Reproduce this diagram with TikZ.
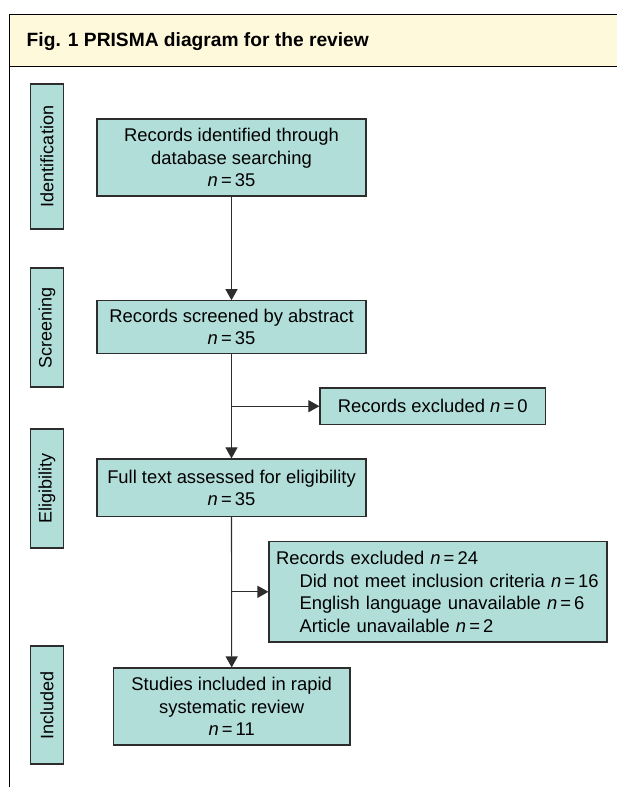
\documentclass[tikz,border=0pt]{standalone}
\usepackage{fontspec}
\setmainfont{Liberation Sans}
\usetikzlibrary{arrows.meta}
\definecolor{boxfill}{RGB}{178,222,218}
\definecolor{headfill}{RGB}{255,249,220}
\definecolor{lineclr}{RGB}{45,45,45}
\newcommand{\nn}[1]{\textit{n}\,=\,#1}
\begin{document}
\begin{tikzpicture}[x=1pt,y=-1pt,
  box/.style={draw=lineclr,line width=1.1pt,fill=boxfill,inner sep=0pt,
    font=\fontsize{18.4}{22.5}\selectfont,align=center},
  side/.style={box,font=\fontsize{18}{22}\selectfont,rotate=90},
  arr/.style={draw=lineclr,line width=1.1pt,-{Triangle[length=11pt,width=12pt]}}]
\useasboundingbox (0,0) rectangle (616,787);
% frame
\fill[headfill] (9,14) rectangle (620,66.7);
\draw[black,line width=0.9pt] (620,14) -- (9,14) -- (9,790);
\draw[black,line width=0.9pt] (9,66.7) -- (620,66.7);
\node[anchor=base west,font=\fontsize{19.2}{22}\selectfont\bfseries,inner sep=0pt] (title) at (26.5,46.5) {Fig. 1 PRISMA diagram for the review};
% side labels
\node[side,minimum height=33pt,minimum width=145pt] (s1) at (47,156.5) {Identification};
\node[side,minimum height=33pt,minimum width=119pt] (s2) at (47,327.5) {Screening};
\node[side,minimum height=33pt,minimum width=119pt] (s3) at (47,488.5) {Eligibility};
\node[side,minimum height=33pt,minimum width=118pt] (s4) at (47,705) {Included};
% main boxes
\node[box,minimum width=269pt,minimum height=77pt] (b1) at (231.5,157.5) {Records identified through\\database searching\\\nn{35}};
\node[box,minimum width=269pt,minimum height=52.3pt] (b2) at (231.5,326.9) {Records screened by abstract\\\nn{35}};
\node[box,minimum width=269pt,minimum height=57.7pt] (b3) at (231.5,487.8) {Full text assessed for eligibility\\\nn{35}};
\node[box,minimum width=236.5pt,minimum height=77pt] (b4) at (231.7,706.5) {Studies included in rapid\\systematic review\\\nn{11}};
% exclusion boxes
\node[box,minimum width=225.5pt,minimum height=36.5pt] (e0) at (432.7,406.2) {Records excluded \nn{0}};
\node[box,text width=324pt,inner xsep=7pt,minimum height=100.3pt,align=left] (e1) at (438,591.8) {Records excluded \nn{24}\\
\hspace*{23.5pt}Did not meet inclusion criteria \nn{16}\\
\hspace*{23.5pt}English language unavailable \nn{6}\\
\hspace*{23.5pt}Article unavailable \nn{2}};
% connectors
\draw[arr] (b1.south) -- (b2.north);
\draw[arr] (b2.south) -- (b3.north);
\draw[arr] (b3.south) -- (b4.north);
\coordinate (j1) at (b2.south |- e0.west);
\coordinate (j2) at (b3.south |- e1.west);
\draw[arr] (j1) -- (e0.west);
\draw[arr] (j2) -- (e1.west);
\end{tikzpicture}
\end{document}
